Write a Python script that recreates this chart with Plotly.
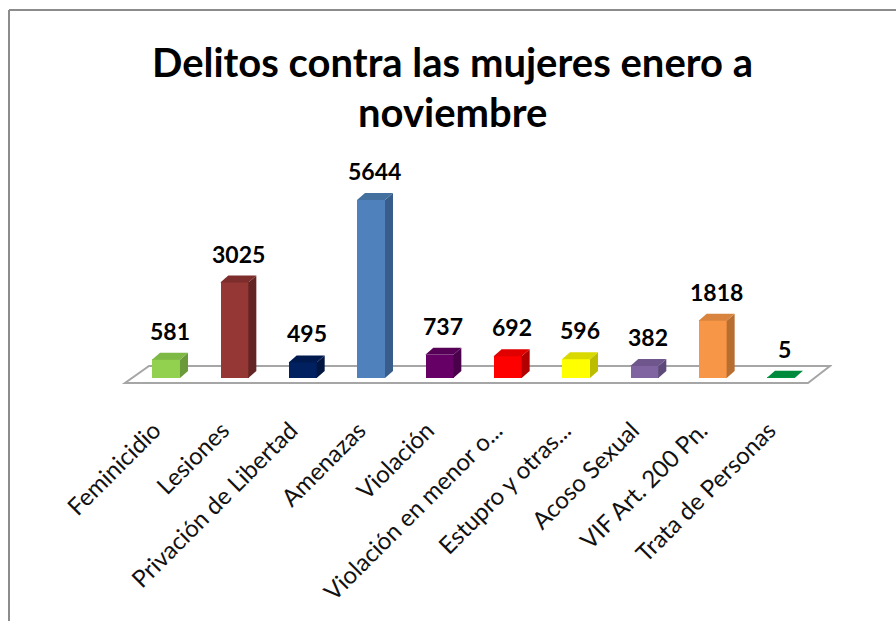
import plotly.graph_objects as go

categories = ["Feminicidio", "Lesiones", "Privación de Libertad", "Amenazas", "Violación",
              "Violación en menor o...", "Estupro y otras...", "Acoso Sexual", "VIF Art. 200 Pn.",
              "Trata de Personas"]
values = [581, 3025, 495, 5644, 737, 692, 596, 382, 1818, 5]
front_colors = ["#92D050", "#953735", "#002060", "#4F81BD", "#660066",
                "#FF0000", "#FFFF00", "#8064A2", "#F79646", "#00B050"]
side_colors = ["#6B9A3A", "#632523", "#001540", "#385D8A", "#4A004A",
               "#B00000", "#BDBD00", "#5E4A78", "#B86E31", "#007A37"]
top_colors = ["#7EB845", "#7D2E2C", "#001A50", "#44709F", "#570057",
              "#E00000", "#D9D900", "#6F578D", "#D8843E", "#008A3E"]
title_lines = ["Delitos contra las mujeres enero a", "noviembre"]

W, H = 896, 621
px_per_cat = 68.33
x0_pix = 166.0
y0_pix = 378.0
px_per_unit = 178.0 / 5644.0
xr = [-0.75, 9.75]
yr = [-250, 7000]
dom_x = [(x0_pix + xr[0] * px_per_cat) / W, (x0_pix + xr[1] * px_per_cat) / W]
dom_y = [1 - (y0_pix - yr[0] * px_per_unit) / H, 1 - (y0_pix - yr[1] * px_per_unit) / H]

half = 0.205
dx = 8 / px_per_cat
dy = 7 / px_per_unit

idx = list(range(len(categories)))

fig = go.Figure()

def px2x(p):
    return (p - x0_pix) / px_per_cat
def py2y(p):
    return (y0_pix - p) / px_per_unit
fl_front, fl_back = 383, 366
floor_path = "M {},{} L {},{} L {},{} L {},{} Z".format(
    px2x(125), py2y(fl_front), px2x(808), py2y(fl_front),
    px2x(830), py2y(fl_back), px2x(149), py2y(fl_back))
fig.add_shape(type="path", path=floor_path, xref="x", yref="y",
              line=dict(color="#A6A6A6", width=2), fillcolor="white", layer="below")

fig.add_trace(go.Bar(x=idx, y=values, width=2 * half, marker=dict(color=front_colors, line=dict(width=0)),
                     hoverinfo="skip", showlegend=False))

for i, v in enumerate(values):
    xs = [i + half, i + half + dx, i + half + dx, i + half, i + half]
    ys = [0, dy, v + dy, v, 0]
    fig.add_trace(go.Scatter(x=xs, y=ys, fill="toself", mode="lines", line=dict(width=0),
                             fillcolor=side_colors[i], hoverinfo="skip", showlegend=False))
    xt = [i - half, i + half, i + half + dx, i - half + dx, i - half]
    yt = [v, v, v + dy, v + dy, v]
    fig.add_trace(go.Scatter(x=xt, y=yt, fill="toself", mode="lines", line=dict(width=0),
                             fillcolor=top_colors[i], hoverinfo="skip", showlegend=False))
    fig.add_annotation(x=i + dx / 2, y=v + dy, text="<b>{}</b>".format(v), showarrow=False,
                       yanchor="bottom", yshift=6, font=dict(family="Lato", size=23, color="black"))

for k, (line, ypix) in enumerate(zip(title_lines, [62, 112])):
    fig.add_annotation(xref="paper", yref="paper", x=453 / W, y=1 - ypix / H, text="<b>" + line + "</b>",
                       showarrow=False, xanchor="center", yanchor="middle",
                       font=dict(family="Lato", size=40, color="black"))

fig.update_layout(
    width=W, height=H,
    margin=dict(l=0, r=0, t=0, b=0, pad=0, autoexpand=False),
    paper_bgcolor="white", plot_bgcolor="rgba(0,0,0,0)",
    xaxis=dict(domain=dom_x, range=xr, tickmode="array", tickvals=idx, ticktext=categories,
               tickangle=-45, showgrid=False, zeroline=False, showline=False, automargin=False,
               ticks="outside", ticklen=12, tickcolor="rgba(0,0,0,0)",
               ticklabelshift=-12, ticklabelstandoff=8,
               tickfont=dict(family="Lato", size=24, color="#111111"), fixedrange=True),
    yaxis=dict(domain=dom_y, range=yr, visible=False, fixedrange=True, automargin=False),
    bargap=0,
)

fig.add_shape(type="line", xref="paper", yref="paper", x0=9 / W, x1=1, y0=1 - 10 / H, y1=1 - 10 / H,
              line=dict(color="#8C8C8C", width=2))
fig.add_shape(type="line", xref="paper", yref="paper", x0=9 / W, x1=9 / W, y0=0, y1=1 - 10 / H,
              line=dict(color="#8C8C8C", width=2))

fig.write_html("out.html", config={"displayModeBar": False},
               post_script="document.body.style.margin='0';document.body.style.overflow='hidden';")
